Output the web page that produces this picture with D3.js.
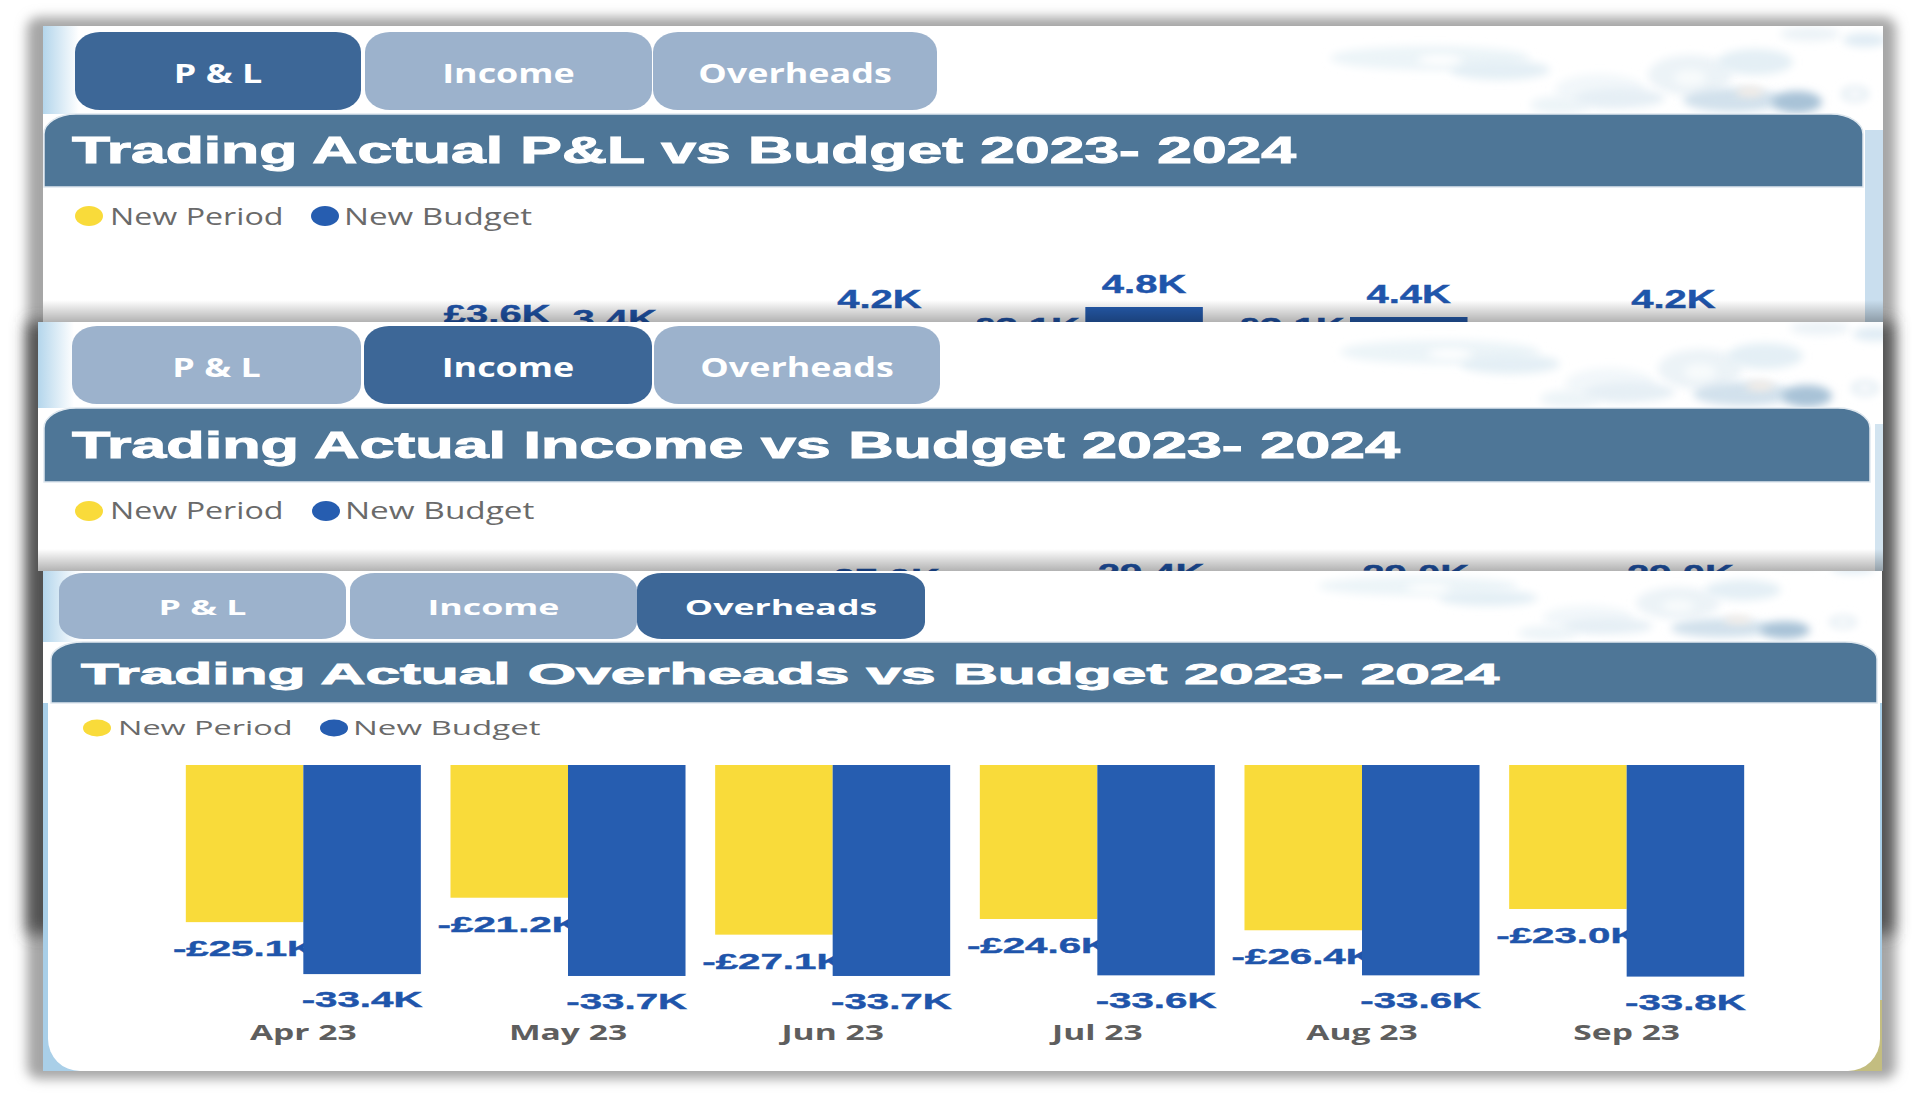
<!DOCTYPE html>
<html><head><meta charset="utf-8">
<script src="https://cdn.jsdelivr.net/npm/d3@7"></script>
<style>html,body{margin:0;padding:0;background:#fff;overflow:hidden}svg{display:block}</style>
</head><body><svg id="c" width="1920" height="1096"></svg>
<script>
// ---- data (null = hidden behind the overlapping panels) ----
const months = ["Apr 23","May 23","Jun 23","Jul 23","Aug 23","Sep 23"];
const seriesNames = ["New Period","New Budget"];
const tabNames = ["P & L","Income","Overheads"];
const pnlActual = [null,3.6,null,3.1,3.1,null];
const pnlBudget = [null,3.4,4.2,4.8,4.4,4.2];
const incomeActual = [null,null,null,null,null,null];
const incomeBudget = [null,null,27.0,29.4,29.0,29.0];
const overheadActual = [-25.1,-21.2,-27.1,-24.6,-26.4,-23.0];
const overheadBudget = [-33.4,-33.7,-33.7,-33.6,-33.6,-33.8];

const YELLOW="#F9DB3A", BLUE="#265DB0", LABEL="#1F55AB", BAR="#4E7697", ON="#3D6797", OFF="#9CB2CC";
const SANS="'Liberation Sans',Arial,sans-serif", UI="'Open Sans',sans-serif";

const svg=d3.select("#c"), defs=svg.append("defs");
defs.append("filter").attr("id","b5").attr("x","-5%").attr("y","-8%").attr("width","110%").attr("height","116%")
  .append("feGaussianBlur").attr("stdDeviation",6);
defs.append("filter").attr("id","b7").attr("x","-5%").attr("y","-12%").attr("width","110%").attr("height","124%")
  .append("feGaussianBlur").attr("stdDeviation",8);
defs.append("filter").attr("id","b3").attr("x","-60%").attr("y","-100%").attr("width","220%").attr("height","300%")
  .append("feGaussianBlur").attr("stdDeviation",4);
const lg=defs.append("linearGradient").attr("id","fade").attr("x1",0).attr("x2",0).attr("y1",0).attr("y2",1);
lg.append("stop").attr("offset",0).attr("stop-color","#000").attr("stop-opacity",0);
lg.append("stop").attr("offset",1).attr("stop-color","#000").attr("stop-opacity",.3);
const ls=defs.append("linearGradient").attr("id","strip");
ls.append("stop").attr("offset",0).attr("stop-color","#b4d6ec");
ls.append("stop").attr("offset",1).attr("stop-color","#ffffff");

function stretch(sel,f){sel.each(function(d,i){const n=this.getComputedTextLength();
  const k=typeof f==="function"?f(d,i):f;
  d3.select(this).attr("textLength",n*k).attr("lengthAdjust","spacingAndGlyphs");});return sel;}

// outer shadows
svg.append("rect").attr("width",1920).attr("height",1096).attr("fill","#fff");
svg.append("rect").attr("x",27).attr("y",17).attr("width",1869).attr("height",1062).attr("rx",12).attr("fill","#a6a6a6").attr("filter","url(#b5)");
svg.append("rect").attr("x",27).attr("y",322).attr("width",1866).attr("height",612).attr("fill","#505050").attr("filter","url(#b7)");

const decor=[ // water-splash decoration above the title bars
 [1430,58,100,12,"#ecf4f8"],[1500,70,50,10,"#e4eff5"],[1600,90,45,16,"#f2f7fa"],[1560,105,30,9,"#edf4f8"],
 [1690,75,42,20,"#ecf3f7"],[1755,62,38,13,"#e4eff5"],[1620,98,45,10,"#e6eff5"],[1733,100,50,12,"#d2e1ec"],
 [1797,102,25,11,"#a8c2d7"],[1855,94,14,8,"#e5eef4"],[1810,34,30,7,"#ecf3f7"],[1865,40,22,7,"#e0ecf4"],
 [1440,60,22,5,"#ffffff"],[1750,92,14,5,"#f3ece6"],[1690,78,16,8,"#f8fbfc"],[1855,94,7,4,"#ffffff"]];

function panel(p){
  const id="clip"+p.key;
  defs.append("clipPath").attr("id",id).append("rect").attr("x",p.left).attr("y",p.top).attr("width",p.right-p.left).attr("height",p.bottom-p.top);
  const g=svg.append("g").attr("clip-path",`url(#${id})`);
  g.append("rect").attr("x",p.left).attr("y",p.top).attr("width",p.right-p.left).attr("height",p.bottom-p.top).attr("fill","#fff");
  // left strip
  g.append("rect").attr("x",p.left).attr("y",p.top).attr("width",36).attr("height",p.barTop-p.top).attr("fill","url(#strip)");
  // right strip
  g.append("rect").attr("x",p.stripX).attr("y",p.barTop+16).attr("width",p.right-p.stripX).attr("height",p.bottom-p.barTop-16).attr("fill",p.rightStrip);
  // splash
  const dg=g.append("g").attr("transform",`translate(${p.bx},${p.barTop-114})`);
  dg.selectAll("ellipse").data(decor).join("ellipse").attr("cx",d=>d[0]).attr("cy",d=>d[1]).attr("rx",d=>d[2]).attr("ry",d=>d[3]*p.bs).attr("fill",d=>d[4]).attr("filter","url(#b3)");

  // tabs
  const tg=g.selectAll("g.tab").data(tabNames).join("g");
  tg.append("rect").attr("x",(d,i)=>p.tabs[i][0]).attr("width",(d,i)=>p.tabs[i][1]-p.tabs[i][0]).attr("y",p.tabY[0]).attr("height",p.tabY[1]-p.tabY[0])
    .attr("rx",25).attr("ry",p.tabR).attr("fill",(d,i)=>i===p.active?ON:OFF);
  tg.append("text").text(d=>d).attr("x",(d,i)=>(p.tabs[i][0]+p.tabs[i][1])/2).attr("y",p.tabBase).attr("text-anchor","middle")
    .attr("fill","#fff").attr("font-family",UI).attr("font-weight",700).attr("font-size",p.tabFont).call(stretch,p.tabStretch);

  // chart area white card (panel 3 only: rounded bottom corners, square top)
  if(p.card){
    g.append("rect").attr("x",p.left).attr("y",p.barBot).attr("width",p.right-p.left).attr("height",p.bottom-p.barBot).attr("fill","#a9cfe8");
    g.append("rect").attr("x",1800).attr("y",1000).attr("width",p.right-1800).attr("height",p.bottom-1000).attr("fill","#c3bd80");
    g.append("rect").attr("x",p.left+5).attr("y",p.barBot).attr("width",p.right-p.left-7).attr("height",p.bottom-p.barBot).attr("rx",32).attr("fill","#fff");
    g.append("rect").attr("x",p.left+5).attr("y",p.barBot).attr("width",p.right-p.left-7).attr("height",100).attr("fill","#fff");
  }

  // title bar
  const L=p.barLeft,R=p.barRight,T=p.barTop,B=p.barBot,rx=32,ry=p.barR;
  g.append("path").attr("d",`M${L},${B}V${T+ry}A${rx},${ry} 0 0 1 ${L+rx},${T}H${R-rx}A${rx},${ry} 0 0 1 ${R},${T+ry}V${B}Z`)
    .attr("fill",BAR).attr("stroke","#dfe8ef").attr("stroke-width",1.5);
  g.append("text").text(p.title).attr("x",p.titleX).attr("y",p.titleBase).attr("fill","#fff").attr("stroke","#fff").attr("stroke-width",p.titleStroke)
    .attr("font-family",SANS).attr("font-weight",700)
    .attr("font-size",p.titleFont).attr("textLength",p.titleW).attr("lengthAdjust","spacingAndGlyphs");

  // legend
  const colors=[YELLOW,BLUE];
  g.selectAll("ellipse.lg").data(seriesNames).join("ellipse").attr("class","lg").attr("cx",(d,i)=>p.lgX[i]).attr("cy",p.lgY).attr("rx",14).attr("ry",p.lgR).attr("fill",(d,i)=>colors[i]);
  g.selectAll("text.lg").data(seriesNames).join("text").attr("class","lg").text(d=>d).attr("x",(d,i)=>p.lgX[i]+(i?19:21)).attr("y",p.lgBase)
    .attr("fill","#6a6a6a").attr("font-family",UI).attr("font-size",p.lgFont).call(stretch,(d,i)=>p.lgStretch[i]);

  // chart
  const x=d3.scaleBand().domain(months).range([171+p.dx,1759+p.dx]).paddingInner(.112).paddingOuter(.056);
  const x1=d3.scaleBand().domain(seriesNames).range([0,x.bandwidth()]);
  const y=d3.scaleLinear().domain(p.yDomain).range(p.yRange);
  const cg=g.append("g");
  function draw(name,vals,color,fmt,gap){
    const rows=months.map((m,i)=>({m,v:vals[i]})).filter(d=>d.v!==null);
    cg.append("g").selectAll("rect").data(rows).join("rect")
      .attr("x",d=>x(d.m)+x1(name)).attr("width",x1.bandwidth())
      .attr("y",d=>Math.min(y(d.v),y(0))).attr("height",d=>Math.abs(y(d.v)-y(0))).attr("fill",color);
    cg.append("g").selectAll("text").data(rows).join("text").text(d=>fmt(d.v))
      .attr("x",d=>x(d.m)+x1(name)+x1.bandwidth()/2).attr("y",d=>y(d.v)+(d.v<0?gap:-p.lblGap)).attr("text-anchor","middle")
      .attr("fill",LABEL).attr("stroke",LABEL).attr("stroke-width",.4).attr("font-family",SANS).attr("font-weight",700).attr("font-size",p.lblFont).call(stretch,p.lblStretch);
  }
  const fa=v=>(v<0?"-":"")+"£"+Math.abs(v).toFixed(1)+"K", fb=v=>(v<0?"-":"")+Math.abs(v).toFixed(1)+"K";
  draw(seriesNames[0],p.actual,YELLOW,fa,34);
  draw(seriesNames[1],p.budget,BLUE,fb,33);
  if(p.axisY){
    const ax=cg.append("g").attr("transform",`translate(0,${p.axisY})`).call(d3.axisBottom(x).tickSize(0));
    ax.select(".domain").remove();
    ax.selectAll("text").attr("y",0).attr("dy",0).attr("fill","#5e5e5e").attr("font-family",UI).attr("font-weight",700).attr("font-size",21).call(stretch,1.6);
  }
  // shadow cast by the next panel lying on top
  if(p.fade) g.append("rect").attr("x",p.left).attr("y",p.bottom-22).attr("width",p.right-p.left).attr("height",22).attr("fill","url(#fade)");
}

panel({key:1,left:43,right:1883,top:26,bottom:322,active:0,bx:0,bs:1,stripX:1865,
  tabs:[[75,361],[365,652],[653,937]],tabY:[32,110],tabR:20,tabBase:83,tabFont:26,tabStretch:1.38,
  barLeft:44,barRight:1863,barTop:114,barBot:187,barR:20,title:"Trading Actual P&L vs Budget 2023- 2024",titleX:72,titleBase:163,titleFont:37,titleW:1224,titleStroke:1,
  lgX:[89,325],lgY:216,lgR:10,lgBase:225,lgFont:23,lgStretch:[1.4,1.44],
  dx:-12,yDomain:[0,4.8],yRange:[427,307],actual:pnlActual,budget:pnlBudget,lblGap:14,lblFont:25,lblStretch:1.6,rightStrip:"#c9deee",fade:true});
panel({key:2,left:38,right:1883,top:322,bottom:571,active:1,bx:10,bs:1,stripX:1875,
  tabs:[[72,361],[364,652],[654,940]],tabY:[326,404],tabR:20,tabBase:377,tabFont:26,tabStretch:1.38,
  barLeft:44,barRight:1870,barTop:408,barBot:482,barR:20,title:"Trading Actual Income vs Budget 2023- 2024",titleX:72,titleBase:458,titleFont:37,titleW:1328,titleStroke:1,
  lgX:[89,326],lgY:511,lgR:10,lgBase:519,lgFont:23,lgStretch:[1.4,1.45],
  dx:-5,yDomain:[29.4,0],yRange:[596,654.8],actual:incomeActual,budget:incomeBudget,lblGap:14,lblFont:25,lblStretch:1.6,rightStrip:"#d3e4f0",fade:true});
panel({key:3,left:43,right:1882,top:571,bottom:1071,active:2,bx:-12,bs:.8,card:true,stripX:1880,
  tabs:[[59,346],[350,637],[637,925]],tabY:[573,639],tabR:17,tabBase:615,tabFont:21,tabStretch:1.7,
  barLeft:51,barRight:1877,barTop:642,barBot:703,barR:17,title:"Trading Actual Overheads vs Budget 2023- 2024",titleX:81,titleBase:684,titleFont:29,titleW:1418,titleStroke:.9,
  lgX:[97,334],lgY:728,lgR:8.5,lgBase:735,lgFont:20,lgStretch:[1.62,1.65],
  dx:0,yDomain:[0,-33.8],yRange:[765,976.6],actual:overheadActual,budget:overheadBudget,lblGap:14,lblFont:22,lblStretch:1.83,axisY:1040,rightStrip:"#ffffff",fade:false});
</script></body></html>
